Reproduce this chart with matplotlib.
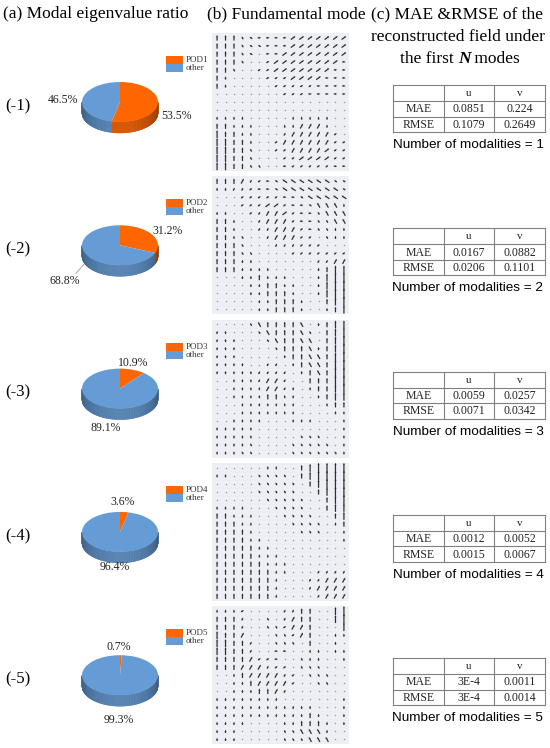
import numpy as np
import matplotlib
matplotlib.use("Agg")
import matplotlib.pyplot as plt
from matplotlib.patches import Wedge, Polygon, Rectangle
from matplotlib.transforms import Affine2D

# ---- data ----
pod_names = ["POD1", "POD2", "POD3", "POD4", "POD5"]
pod_pct = [53.5, 31.2, 10.9, 3.6, 0.7]
other_pct = [46.5, 68.8, 89.1, 96.4, 99.3]

mae_u = ["0.0851", "0.0167", "0.0059", "0.0012", "3E-4"]
mae_v = ["0.224", "0.0882", "0.0257", "0.0052", "0.0011"]
rmse_u = ["0.1079", "0.0206", "0.0071", "0.0015", "3E-4"]
rmse_v = ["0.2649", "0.1101", "0.0342", "0.0067", "0.0014"]
n_modes = [1, 2, 3, 4, 5]

# mode fields: orientation (v=vertical, s=steep /, r=/, h=-, t=steep \, f=\, .=~0)
# and magnitude level 0..4, one char per arrow, 16 columns x 17 rows
mode_dir = [
    ["vvvtfhhhhrrrrrrr", "vvvtffhhhrrrrrrr", "vvvtf.hhrrrrrrrr", "vvvt..rrrrrrrrrh",
     "vvt..rrrrrrrrrhh", "vv....rrrrrrrhhh", "vv.....rrrrrhhhh", "........rrrhhhhh",
     "................", "................", "vvvv.....vvvvv..", "vvvvv...vvsssv..",
     "vvvvv...ssssssr.", "vvvvv..rssssssrr", "vvvvt..rrssssrrr", "vvvvt...rrrrrrrr",
     "vvvvtt..hrrrrrhh"],
    ["vvvssrhfffffffff", "vvssrhhfffffffff", "...rrrrrhhffffff", "...rrrrrrhhfttt.",
     "vv..rsssrrhhtttt", "vvv..ssssrhhtttt", "vvv..sssssrhttvv", "vvvt..ssssrr.tvv",
     "vvvt...sssrrr...", "vvvtt....rrrrrrr", "vvvvv.......ssss", "vvvvvvv.....vvvv",
     "...vvvvvv...vvvv", "....vvvvvv..vvvv", "....vvvvvv..vvvv", ".....vvvvvv..vvv",
     ".....vvvvvv..vvv"],
    ["....ttvvvvt..vvv", "vv...ttvvvtt.vvv", "vvv...ttvvtt.vvv", "vvv....tvvvt.vvv",
     "vvv.....vvvttvvv", "vvvv..ss.vvttvvv", "vvvvvssss.vvtvvv", "..vvvssss..vvvvv",
     "..vvvvsssv.vvvvv", "..vvvvvvvv..vvvv", "...vvvvvvv...vvv", "...vvvvvvv....vv",
     "..vvvv...vvv...v", "vvvvv..........v", "vvvvv.....ttt..v", "vvvvt....ttttt.v",
     "vvvtt....ttttttv"],
    ["......vv..vvvvvv", "vv...tttt.vvvvvv", ".....ttttt.vvvvv", ".....ttttt..vvvv",
     "......ttttt..vvv", "vvvv...tttt..vvv", "vvvvv...tttt..vv", "vvvvv....tttt.vv",
     "vvvvv.....ttt..v", "vvvvvv.........v", "vvvvvvv.........", "vvvvvvvv........",
     "vvvvvvvvv.......", "vvvvvvvvv...ssss", "vvvvvvvv...sssss", "vvvvvvvv...sssss",
     "vvvvvvvv....ssss"],
    ["vvvr....ssvv..vv", "vvvs..t.ssvv..vv", "vvvs..ttrssv...v", "vvvs...ttrsv..vv",
     "vvvvs..ttt.v..v.", "vvvvs..hh..vv.vv", "vvvvsrrh..tvv..v", "vvvssssrr.ttt...",
     "..vvsssssr.ttt..", "..vvvssssr..tt..", "..vvvvvss.......", "vvvvvvvv.......v",
     "vvvvvvvvvvvv...v", "vvvvvvvvvvvvv..v", "vvvv....vvvvvv.v", "vvv.....tttttv..",
     "vvv.....tttttt.."],
]
mode_mag = [
    ["2221111112222222", "2221111112222222", "2221101122222222", "2221001222222221",
     "2210011222222211", "2100001112222111", "2100000111111111", "0000000011111111",
     "0000000000000000", "0000000000000000", "1111000001111100", "2211100011222100",
     "3221100012222210", "3322100122222211", "3322100112222211", "3322100011222211",
     "3322110011111111"],
    ["2222111122222211", "1111111122222221", "0001111111122222", "0001112211112221",
     "1100112221111222", "2210012221111122", "2210011222111111", "2211001222110111",
     "2221000111111000", "2221100001111111", "2221100000001122", "2221111000001233",
     "0001121110001344", "0000112211001344", "0000112221001344", "0000011222100234",
     "0000011222100123"],
    ["0000122222201233", "1100012222210234", "1110001222220234", "1110000122221234",
     "1110000012222234", "1111001101222244", "1111111110122244", "0011112210022244",
     "0011112211012234", "0011112211001233", "0001111111000122", "0001111111000011",
     "0011110001110001", "1111100000000001", "1111100000111001", "1111100001111101",
     "1111100001111111"],
    ["0000001100234444", "1100011110234444", "0000011111023444", "0000011111002344",
     "0000001111100234", "1111000111100233", "2211100011110023", "2221100001111012",
     "2222100000111001", "2222110000000001", "2222211000000000", "2222211100000000",
     "2222221110000000", "2222222110001111", "2222222100011222", "2222222100012222",
     "2222222100001222"],
    ["1111000011220034", "2221001012220034", "2221001112220003", "3222000111220011",
     "3322100111020010", "3322100110011011", "2222211100111001", "2222221110111000",
     "0012222211011100", "0011222221001100", "0011122210000000", "1111111100000001",
     "1111111111110001", "1111111111121001", "1111000011222101", "1110000011222100",
     "1110000011122200"],
]

# ---- styling ----
serif = "Liberation Serif"
sans = "Liberation Sans"
orange = np.array([1.0, 0.40, 0.0])
blue = np.array([0.40, 0.61, 0.84])
dir_angle = {"v": 90, "s": 62, "r": 38, "h": 0, "t": 118, "f": 145, ".": 90}
mag_len = [0.12, 0.4, 0.7, 1.0, 1.25]

fig = plt.figure(figsize=(5.5, 7.48), dpi=100)
ax = fig.add_axes([0, 0, 1, 1])
ax.set_xlim(0, 550)
ax.set_ylim(748, 0)
ax.axis("off")

period = 143.3
row_y = [102 + i * period for i in range(5)]

# titles
ax.text(96, 14, "(a) Modal eigenvalue ratio", family=serif, fontsize=12.5, ha="center", va="center")
ax.text(286, 14, "(b) Fundamental mode", family=serif, fontsize=12.5, ha="center", va="center")
ax.text(457, 14, "(c) MAE &RMSE of the", family=serif, fontsize=12.5, ha="center", va="center")
ax.text(458, 37, "reconstructed field under", family=serif, fontsize=12.5, ha="center", va="center")

renderer = fig.canvas.get_renderer()
pieces = [("the first ", "normal", "normal"), ("N", "bold", "italic"), (" modes", "normal", "normal")]
objs = [ax.text(0, 59, s, family=serif, fontsize=12.5, weight=w, style=st, va="center", ha="left")
        for s, w, st in pieces]
widths = [o.get_window_extent(renderer).width for o in objs]
x0 = 460 - sum(widths) / 2
for o, w in zip(objs, widths):
    o.set_x(x0)
    x0 += w

# pie geometry
a, b, depth = 38, 20, 11
cx = 120
pod_off = [(56, 14), (48, -14), (13, -26), (3, -30), (-1, -28)]
oth_off = [(-57, -2), (-55, 36), (-14, 39), (-5, 35), (-1, 45)]


def side(cy, t1, t2, base):
    # front wall of the pie between angles t1..t2 (degrees, within -180..0)
    t = np.linspace(t1, t2, max(2, int(abs(t2 - t1)) + 1))
    for k in range(len(t) - 1):
        th = np.radians([t[k], t[k + 1]])
        xs = cx + a * np.cos(th)
        ys = cy - b * np.sin(th)
        shade = 0.58 + 0.25 * (-np.sin(th.mean()))
        pts = [(xs[0], ys[0]), (xs[1], ys[1]), (xs[1], ys[1] + depth), (xs[0], ys[0] + depth)]
        ax.add_patch(Polygon(pts, closed=True, fc=base * shade, ec=base * shade, lw=0.3))


for i in range(5):
    cy = row_y[i]
    ang = 90 - 360 * pod_pct[i] / 100.0
    # side walls
    lo, hi = max(ang, -180), 0
    if lo < hi:
        side(cy, lo, hi, orange)
    hi_b = min(0, ang)
    if -180 < hi_b:
        side(cy, -180, hi_b, blue)
    tr = Affine2D().scale(a, -b).translate(cx, cy) + ax.transData
    ax.add_patch(Wedge((0, 0), 1, ang, 90, fc=orange, ec="none", transform=tr))
    ax.add_patch(Wedge((0, 0), 1, 90, ang + 360, fc=blue, ec="none", transform=tr))

    ax.text(cx + pod_off[i][0], cy + pod_off[i][1], f"{pod_pct[i]}%", family=serif,
            fontsize=8.5, ha="center", va="center", color="#222222")
    ax.text(cx + oth_off[i][0], cy + oth_off[i][1], f"{other_pct[i]}%", family=serif,
            fontsize=8.5, ha="center", va="center", color="#222222")
    if i == 1:
        ax.plot([cx - 44, cx - 36], [cy + 28, cy + 19], color="#999999", lw=0.6)

    # legend
    ly = cy - 46
    ax.add_patch(Rectangle((166, ly), 17, 8, fc=orange, ec="none"))
    ax.add_patch(Rectangle((166, ly + 8), 17, 8, fc=blue, ec="none"))
    ax.text(186, ly + 4, pod_names[i], family=serif, fontsize=6.5, va="center", color="#333333")
    ax.text(186, ly + 12, "other", family=serif, fontsize=6.5, va="center", color="#333333")

    ax.text(5, cy + 4, f"(-{i + 1})", family=serif, fontsize=12, va="center", ha="left")

    # table
    ty = cy - 17
    cols = [393, 444, 494, 545]
    rows = [ty, ty + 16, ty + 31.5, ty + 47]
    for xx in cols:
        ax.plot([xx, xx], [rows[0], rows[-1]], color="#808080", lw=0.8)
    for yy in rows:
        ax.plot([cols[0], cols[-1]], [yy, yy], color="#808080", lw=0.8)
    cells = [["", "u", "v"], ["MAE", mae_u[i], mae_v[i]], ["RMSE", rmse_u[i], rmse_v[i]]]
    for r in range(3):
        for c in range(3):
            ax.text((cols[c] + cols[c + 1]) / 2, (rows[r] + rows[r + 1]) / 2 + 0.5, cells[r][c],
                    family=serif, fontsize=8 if r == 0 else 8.5, ha="center", va="center",
                    color="#222222")
    ax.text(468, rows[-1] + 13, f"Number of modalities = {n_modes[i]}", family=sans,
            fontsize=9.7, ha="center", va="center")

    # vector field panel
    top = 33 + i * period
    qa = fig.add_axes([212 / 550, 1 - (top + 138) / 748, 137 / 550, 138 / 748])
    qa.set_facecolor("#eeeef5")
    qa.set_xticks([])
    qa.set_yticks([])
    for sp in qa.spines.values():
        sp.set_visible(False)
    ny, nx = len(mode_dir[i]), len(mode_dir[i][0])
    X, Y, U, V = [], [], [], []
    zx, zy = [], []
    for r in range(ny):
        for c in range(nx):
            m = int(mode_mag[i][r][c])
            if m == 0:
                zx.append(c)
                zy.append(r)
                continue
            th = np.radians(dir_angle[mode_dir[i][r][c]])
            L = mag_len[m]
            X.append(c)
            Y.append(r)
            U.append(L * np.cos(th))
            V.append(-L * np.sin(th))
    qa.scatter(zx, zy, s=1.2, color="#9a9aa0", linewidths=0)
    qa.quiver(X, Y, U, V, angles="xy", scale_units="xy", scale=1, pivot="middle",
              color="#2e2e2e", width=0.009, headwidth=1.8, headlength=1.8, headaxislength=1.6,
              minshaft=0.5, minlength=0.2)
    qa.set_xlim(-0.6, nx - 0.4)
    qa.set_ylim(ny - 0.4, -0.6)

fig.savefig("out.png", dpi=100)
